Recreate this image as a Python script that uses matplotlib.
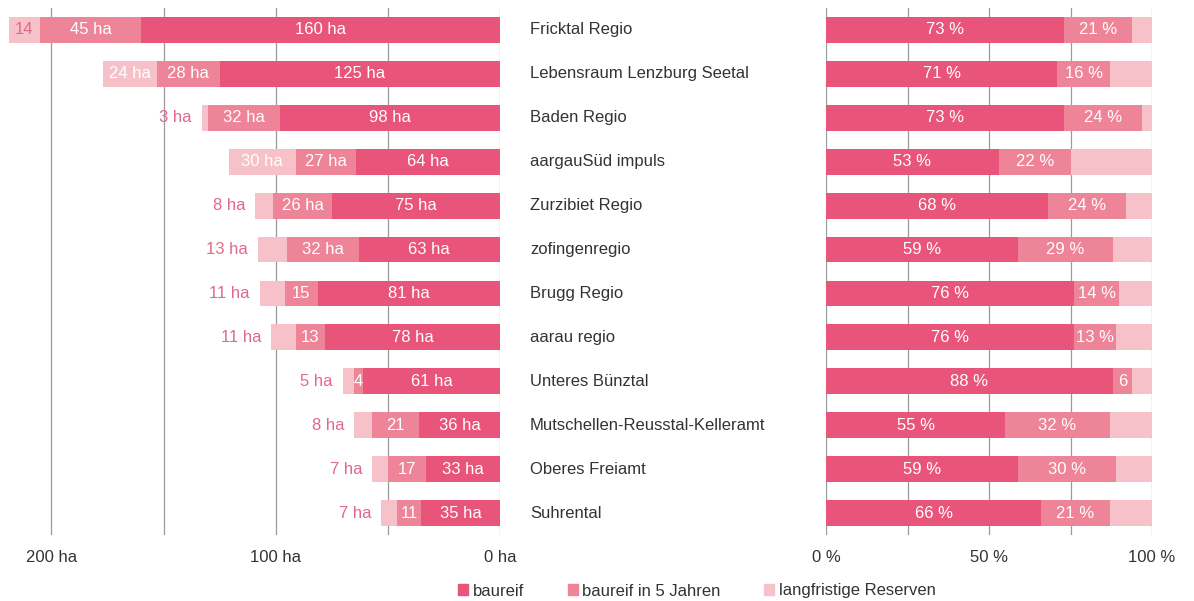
import matplotlib.pyplot as plt
import matplotlib.transforms as mtransforms
from matplotlib.patches import Patch

plt.rcParams['font.family'] = ['Liberation Sans', 'DejaVu Sans']

regions = ['Fricktal Regio', 'Lebensraum Lenzburg Seetal', 'Baden Regio',
           'aargauSüd impuls', 'Zurzibiet Regio', 'zofingenregio', 'Brugg Regio',
           'aarau regio', 'Unteres Bünztal', 'Mutschellen-Reusstal-Kelleramt',
           'Oberes Freiamt', 'Suhrental']

# hectares
ha_ready = [160, 125, 98, 64, 75, 63, 81, 78, 61, 36, 33, 35]
ha_5y = [45, 28, 32, 27, 26, 32, 15, 13, 4, 21, 17, 11]
ha_long = [14, 24, 3, 30, 8, 13, 11, 11, 5, 8, 7, 7]
lbl_5y = ['45 ha', '28 ha', '32 ha', '27 ha', '26 ha', '32 ha', '15', '13', '4', '21', '17', '11']
lbl_long = ['14', '24 ha', '3 ha', '30 ha', '8 ha', '13 ha', '11 ha', '11 ha', '5 ha', '8 ha', '7 ha', '7 ha']

# percent
pct_ready = [73, 71, 73, 53, 68, 59, 76, 76, 88, 55, 59, 66]
pct_5y = [21, 16, 24, 22, 24, 29, 14, 13, 6, 32, 30, 21]
pct_long = [6, 13, 3, 25, 8, 12, 10, 11, 6, 13, 11, 13]
lbl_pct_5y = ['21 %', '16 %', '24 %', '22 %', '24 %', '29 %', '14 %', '13 %', '6', '32 %', '30 %', '21 %']

c_ready = '#e8547a'
c_5y = '#ee8497'
c_long = '#f7c1c9'
c_text = '#333333'
c_out = '#e0688a'
grid_c = '#9a9a9a'
fs = 12

W, H = 1194, 601
fig = plt.figure(figsize=(W / 100, H / 100), dpi=100)

y_top, y_bot = 8, 535
bottom = (H - y_bot) / H
height = (y_bot - y_top) / H
ylim = (11.5, -0.5)
bh = 0.59
ys = list(range(len(regions)))

# left chart (hectares, growing to the left)
axL = fig.add_axes([2 / W, bottom, 498 / W, height])
axL.set_xlim(222, 0)
axL.set_ylim(*ylim)
for g in [0, 50, 100, 150, 200]:
    axL.axvline(g, color=grid_c, lw=0.9, zorder=0)
left2 = [a + b for a, b in zip(ha_ready, ha_5y)]
axL.barh(ys, ha_ready, height=bh, color=c_ready, zorder=2)
axL.barh(ys, ha_5y, left=ha_ready, height=bh, color=c_5y, zorder=2)
axL.barh(ys, ha_long, left=left2, height=bh, color=c_long, zorder=2)
for i in ys:
    axL.text(ha_ready[i] / 2, i, f'{ha_ready[i]} ha', ha='center', va='center',
             color='white', fontsize=fs)
    axL.text(ha_ready[i] + ha_5y[i] / 2, i, lbl_5y[i], ha='center', va='center',
             color='white', fontsize=fs)
    if ha_long[i] >= 14:
        col = 'white' if 'ha' in lbl_long[i] else c_out
        axL.text(left2[i] + ha_long[i] / 2, i, lbl_long[i], ha='center', va='center',
                 color=col, fontsize=fs)
    else:
        axL.text(left2[i] + ha_long[i] + 4.5, i, lbl_long[i], ha='right', va='center',
                 color=c_out, fontsize=fs)
axL.set_xticks([200, 100, 0])
axL.set_xticklabels(['200 ha', '100 ha', '0 ha'])
axL.set_yticks([])

# right chart (percent)
axR = fig.add_axes([826 / W, bottom, 326 / W, height])
axR.set_xlim(0, 100)
axR.set_ylim(*ylim)
for g in [0, 25, 50, 75, 100]:
    axR.axvline(g, color=grid_c, lw=0.9, zorder=0)
pl2 = [a + b for a, b in zip(pct_ready, pct_5y)]
axR.barh(ys, pct_ready, height=bh, color=c_ready, zorder=2)
axR.barh(ys, pct_5y, left=pct_ready, height=bh, color=c_5y, zorder=2)
axR.barh(ys, pct_long, left=pl2, height=bh, color=c_long, zorder=2)
for i in ys:
    axR.text(pct_ready[i] / 2, i, f'{pct_ready[i]} %', ha='center', va='center',
             color='white', fontsize=fs)
    axR.text(pct_ready[i] + pct_5y[i] / 2, i, lbl_pct_5y[i], ha='center', va='center',
             color='white', fontsize=fs)
axR.set_xticks([0, 50, 100])
axR.set_xticklabels(['0 %', '50 %', '100 %'])
axR.set_yticks([])

for ax in (axL, axR):
    for s in ax.spines.values():
        s.set_visible(False)
    ax.tick_params(axis='x', length=0, pad=11, labelsize=fs, labelcolor=c_text)

# region names between the charts
tr = mtransforms.blended_transform_factory(fig.transFigure, axR.transData)
for i, name in enumerate(regions):
    fig.text(530 / W, i, name, transform=tr, ha='left', va='center',
             color=c_text, fontsize=fs)

handles = [Patch(color=c_ready), Patch(color=c_5y), Patch(color=c_long)]
fig.legend(handles, ['baureif', 'baureif in 5 Jahren', 'langfristige Reserven'],
           loc='center', bbox_to_anchor=(697 / W, 1 - 591 / H), ncol=3, frameon=False,
           handlelength=0.6, handleheight=0.6, handletextpad=0.3, columnspacing=2.6,
           fontsize=fs, labelcolor=c_text)

fig.savefig('out.png', dpi=100)
